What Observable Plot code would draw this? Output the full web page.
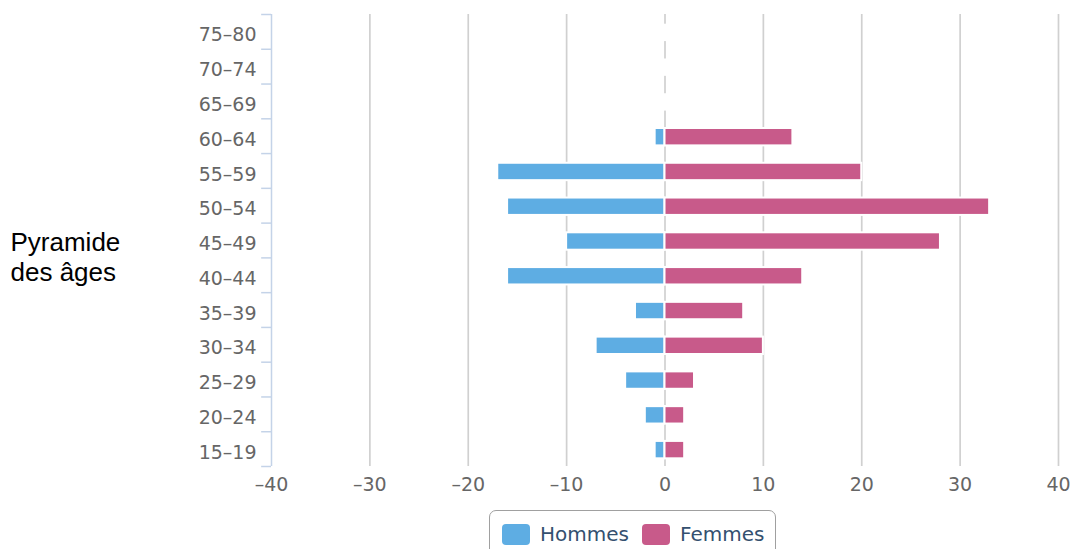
<!DOCTYPE html>
<html lang="fr">
<head>
<meta charset="utf-8">
<script src="https://cdn.jsdelivr.net/npm/d3@7"></script>
<script src="https://cdn.jsdelivr.net/npm/@observablehq/plot@0.6"></script>
<style>
  html, body { margin: 0; padding: 0; background: #fff; overflow: hidden; }
  #wrap { position: relative; width: 1073px; height: 549px; }
  #legend {
    position: absolute; left: 489px; top: 510px; width: 287px; height: 50px;
    border: 1.5px solid #a0a0a0; border-radius: 7px; box-sizing: border-box;
    font-family: "DejaVu Sans", sans-serif; font-size: 20px; color: #34506f;
  }
  #legend .item { position: absolute; top: 11px; display: flex; align-items: center; }
  #legend .sw { width: 28px; height: 21px; border-radius: 4px; margin-right: 10px; }
</style>
</head>
<body>
<div id="wrap"></div>
<script>
// Age groups, top to bottom
const ages = ["75–80", "70–74", "65–69", "60–64", "55–59", "50–54", "45–49", "40–44", "35–39", "30–34", "25–29", "20–24", "15–19"];
// Men are drawn to the left (negative), women to the right
const hommes = [0, 0, 0, -1, -17, -16, -10, -16, -3, -7, -4, -2, -1];
const femmes = [0, 0, 0, 13, 20, 33, 28, 14, 8, 10, 3, 2, 2];
const xTicks = [-40, -30, -20, -10, 0, 10, 20, 30, 40];
const seriesNames = ["Hommes", "Femmes"];
const colors = ["#5eade3", "#c85a8a"];

const rows = ages.flatMap((age, i) => [
  {age, sexe: seriesNames[0], value: hommes[i]},
  {age, sexe: seriesNames[1], value: femmes[i]}
]);

const marginTop = 14, marginBottom = 34, height = 500;
const step = (height - marginTop - marginBottom) / ages.length;
const fmt = d => d < 0 ? "–" + Math.abs(d) : String(d);

const chart = Plot.plot({
  width: 1073,
  height,
  marginLeft: 271,
  marginRight: 15,
  marginTop,
  marginBottom,
  style: {fontFamily: "'DejaVu Sans', sans-serif", fontSize: "19px", color: "#666", background: "#fff"},
  x: {domain: [-40, 40]},
  y: {domain: ages, paddingInner: 0.5, paddingOuter: 0.25, round: false},
  color: {domain: seriesNames, range: colors},
  marks: [
    // vertical grid
    Plot.ruleX(xTicks.filter(d => d !== -40), {stroke: "#d0d0d0", strokeWidth: 1.7}),
    // the zero line is interrupted at every age group (bar borders)
    Plot.tickX(ages, {x: 0, y: d => d, stroke: "#fff", strokeWidth: 4, dy: 1}),
    Plot.barX(rows, {x: "value", y: "age", fill: "sexe", stroke: "#fff", strokeWidth: 2, dy: 1}),
    // category axis line and boundary ticks
    Plot.ruleX([-40], {stroke: "#c4d3e8", strokeWidth: 1.5}),
    Plot.ruleY(ages, {y: d => d, x1: -41, x2: -40, dy: -step / 2, stroke: "#c4d3e8", strokeWidth: 1.5}),
    Plot.ruleY(ages.slice(-1), {y: d => d, x1: -41, x2: -40, dy: step / 2, stroke: "#c4d3e8", strokeWidth: 1.5}),
    Plot.axisY({tickSize: 0, tickPadding: 15, dy: 3.5, label: null}),
    Plot.axisX({ticks: xTicks, tickFormat: fmt, tickSize: 0, tickPadding: 11, label: null}),
    Plot.text(["Pyramide\ndes âges"], {
      frameAnchor: "left", dx: -261, dy: 16, textAnchor: "start", lineHeight: 1.15,
      fontFamily: "'Liberation Sans', Arial, sans-serif", fontSize: 26, fill: "#000"
    })
  ]
});

const wrap = document.getElementById("wrap");
wrap.appendChild(chart);

// Legend below the plot
const legend = document.createElement("div");
legend.id = "legend";
const offsets = [12, 152];
seriesNames.forEach((name, i) => {
  const item = document.createElement("div");
  item.className = "item";
  item.style.left = offsets[i] + "px";
  const sw = document.createElement("span");
  sw.className = "sw";
  sw.style.background = colors[i];
  const label = document.createElement("span");
  label.textContent = name;
  item.append(sw, label);
  legend.appendChild(item);
});
wrap.appendChild(legend);
</script>
</body>
</html>
